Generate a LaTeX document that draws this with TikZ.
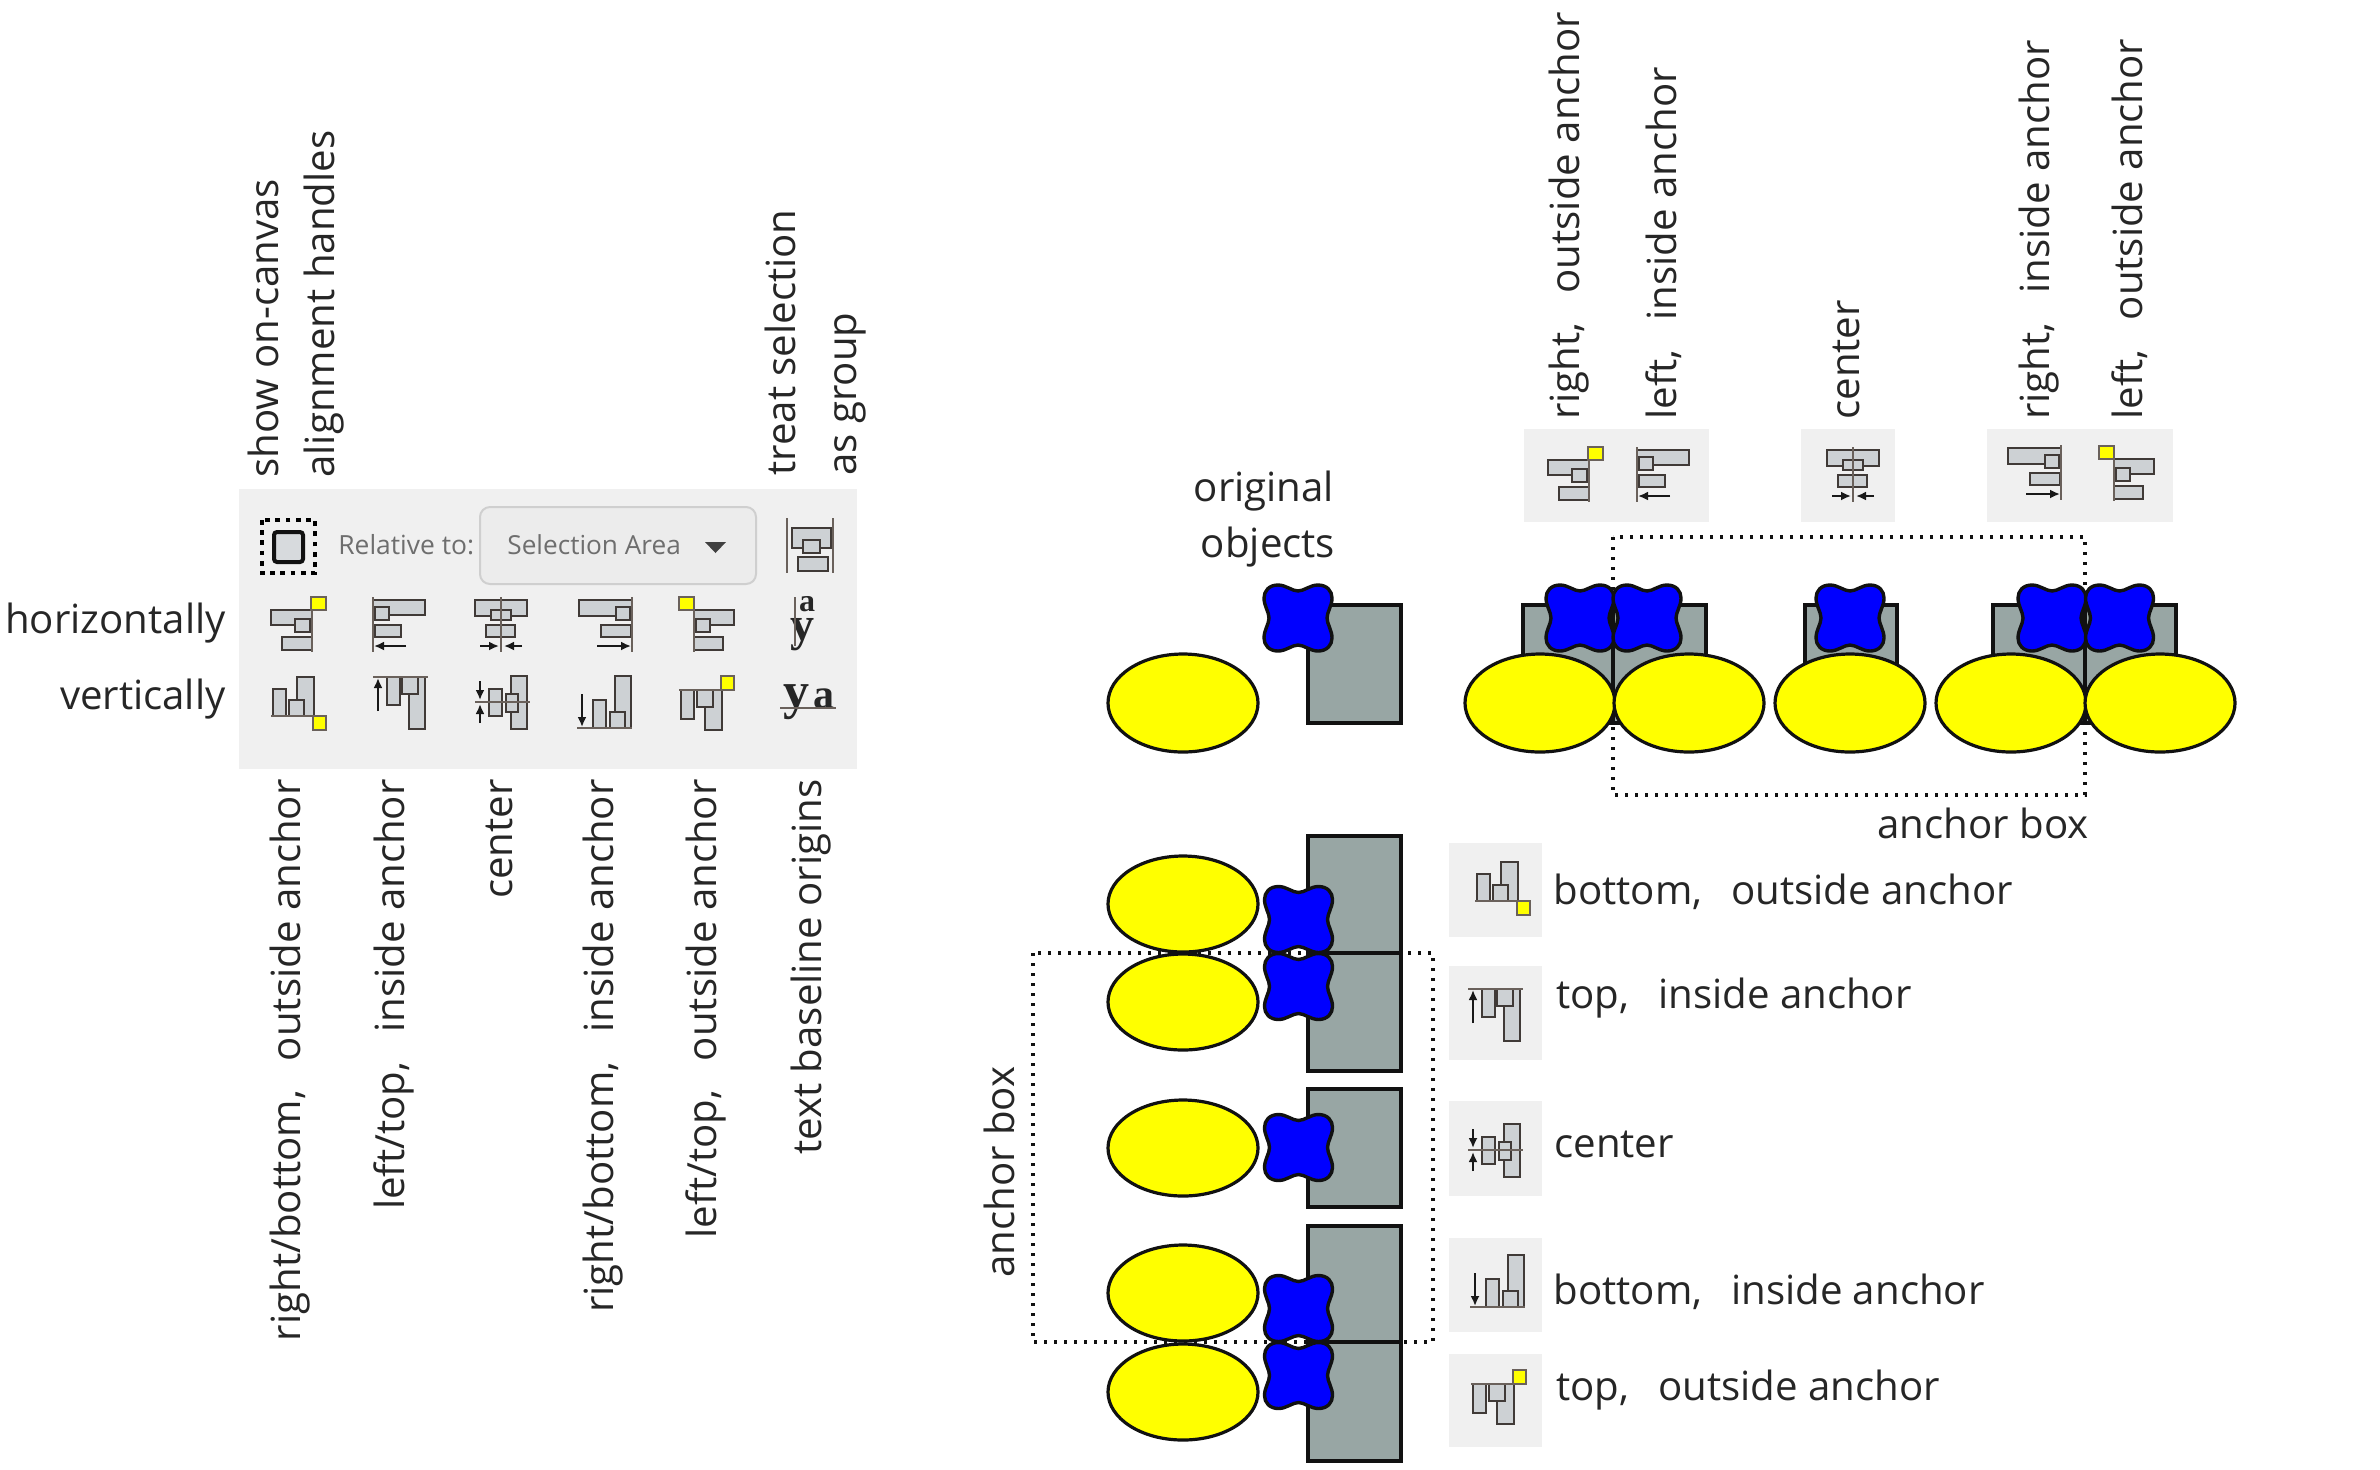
\documentclass[tikz,border=0pt]{standalone}
\usepackage{fontspec}
\usetikzlibrary{arrows.meta}
\setmainfont{Open Sans}
\newfontfamily\iconserif{Liberation Serif}
\newcommand{\wgap}{\hspace{0.72em}}
\definecolor{rectgray}{HTML}{98A6A4}
\definecolor{panelbg}{HTML}{F0F0F0}
\definecolor{ddbg}{HTML}{ECECEC}
\definecolor{ddborder}{HTML}{CFCFCF}
\definecolor{iconline}{HTML}{6A615B}
\definecolor{iconbar}{HTML}{CDD1D4}
\definecolor{icontext}{HTML}{6E6E6E}
\definecolor{inkblack}{HTML}{111111}
\definecolor{pureyellow}{RGB}{255,255,0}
\definecolor{pureblue}{RGB}{0,0,255}
\tikzset{
  lbl/.style={font=\fontsize{20.1}{24}\selectfont, text=black!85, inner sep=0pt, text height=14pt, text depth=4pt},
  toplbl/.style={lbl, rotate=90, anchor=west},
  botlbl/.style={lbl, rotate=90, anchor=east},
  rightlbl/.style={lbl, anchor=west},
  rct/.style={draw=inkblack, line width=1.7pt, fill=rectgray},
  ell/.style={draw=inkblack, line width=1.6pt, fill=pureyellow},
  blobst/.style={draw=inkblack, line width=1.7pt, fill=pureblue},
  anchorbox/.style={draw=inkblack, line width=1.7pt, dash pattern=on 1.7pt off 3.3pt},
  ibg/.style={fill=panelbg, draw=none},
  ibar/.style={draw=iconline!60!black, line width=1.3pt, fill=iconbar},
  iline/.style={draw=iconline, line width=1.3pt},
  iyel/.style={draw=iconline, line width=1.3pt, fill=pureyellow},
  iarr/.style={draw=black!90, line width=1pt, -{Latex[length=5pt,width=4.5pt]}},
  itxt/.style={text=black!85, inner sep=0pt, anchor=base, font=\iconserif\bfseries\fontsize{24}{24}\selectfont},
  blob/.pic={
    \path[blobst] (0,-27) .. controls (-6,-27) and (-12,-33) .. (-20,-33)
      .. controls (-29,-33) and (-34,-27) .. (-34,-20)
      .. controls (-34,-12) and (-29,-6) .. (-29,0)
      .. controls (-29,6) and (-34,12) .. (-34,20)
      .. controls (-34,27) and (-29,33) .. (-20,33)
      .. controls (-12,33) and (-6,27) .. (0,27)
      .. controls (6,27) and (12,33) .. (20,33)
      .. controls (29,33) and (34,27) .. (34,20)
      .. controls (34,12) and (29,6) .. (29,0)
      .. controls (29,-6) and (34,-12) .. (34,-20)
      .. controls (34,-27) and (29,-33) .. (20,-33)
      .. controls (12,-33) and (6,-27) .. (0,-27) -- cycle;
  },
  hro/.pic={
    \path[ibar] (1,13) rectangle (42,28);
    \path[ibar] (12,40) rectangle (42,53);
    \path[iline] (42,0) -- (42,55);
    \path[ibar] (25,22) rectangle (40,35);
    \path[iyel] (41,0) rectangle (56,13);
  },
  hli/.pic={
    \path[ibar] (0,3) rectangle (52,18);
    \path[ibar] (2,28) rectangle (28,40);
    \path[iline] (0,0) -- (0,55);
    \path[ibar] (2,10) rectangle (16,23);
    \path[iarr] (33,49) -- (1,49);
  },
  hcn/.pic={
    \path[ibar] (0,3) rectangle (52,19);
    \path[ibar] (11,28) rectangle (40,40);
    \path[ibar] (16,13) rectangle (36,23);
    \path[iline] (26,0) -- (26,55);
    \path[iarr] (5,49) -- (24,49);
    \path[iarr] (47,49) -- (29,49);
  },
  hri/.pic={
    \path[ibar] (0,3) rectangle (53,19);
    \path[ibar] (22,28) rectangle (52,40);
    \path[iline] (53,0) -- (53,55);
    \path[ibar] (37,10) rectangle (51,23);
    \path[iarr] (18,49) -- (52,49);
  },
  hlo/.pic={
    \path[ibar] (15,13) rectangle (55,28);
    \path[ibar] (15,40) rectangle (44,53);
    \path[iline] (15,0) -- (15,55);
    \path[ibar] (17,22) rectangle (31,35);
    \path[iyel] (0,0) rectangle (15,13);
  },
  vbo/.pic={
    \path[ibar] (2,13) rectangle (15,40);
    \path[ibar] (26,1) rectangle (43,40);
    \path[ibar] (18,24) rectangle (33,40);
    \path[iline] (0,40) -- (43,40);
    \path[iyel] (42,40) rectangle (55,54);
  },
  vti/.pic={
    \path[ibar] (14,1) rectangle (27,29);
    \path[ibar] (36,1) rectangle (52,53);
    \path[ibar] (29,1) rectangle (45,18);
    \path[iline] (0,1) -- (55,1);
    \path[iarr] (5,35) -- (5,2);
  },
  vcn/.pic={
    \path[ibar] (14,13) rectangle (27,40);
    \path[ibar] (36,0) rectangle (52,53);
    \path[ibar] (31,18) rectangle (43,36);
    \path[iline] (0,26) -- (55,26);
    \path[iarr] (5,5) -- (5,24);
    \path[iarr] (5,47) -- (5,28);
  },
  vbi/.pic={
    \path[ibar] (16,24) rectangle (29,52);
    \path[ibar] (38,0) rectangle (54,52);
    \path[ibar] (33,36) rectangle (48,52);
    \path[iline] (0,52) -- (55,52);
    \path[iarr] (5,18) -- (5,51);
  },
  vto/.pic={
    \path[ibar] (2,14) rectangle (15,43);
    \path[ibar] (26,14) rectangle (43,54);
    \path[ibar] (18,14) rectangle (34,31);
    \path[iline] (0,14) -- (44,14);
    \path[iyel] (42,0) rectangle (55,14);
  },
}
\begin{document}
\begin{tikzpicture}[x=0.5pt,y=-0.5pt]
\useasboundingbox (0,0) rectangle (2380,1469);
\fill[white] (0,0) rectangle (2380,1469);

% --- toolbar panel ---
\path[ibg] (239,489) rectangle (857,769);
\draw[draw=black, line width=2pt, dash pattern=on 2.4pt off 2.7pt] (262,520) rectangle (315,573);
\draw[draw=inkblack, line width=2pt, rounded corners=1.5pt, fill=iconbar!80!white] (274,532) rectangle (303,562);
\node[font=\fontsize{13.2}{16}\selectfont, text=icontext, inner sep=0pt, anchor=west] (rel) at (338,545) {Relative to:};
\draw[draw=ddborder, line width=1pt, fill=ddbg, rounded corners=5pt] (480,507) rectangle (756,584);
\node[font=\fontsize{13.1}{16}\selectfont, text=icontext, inner sep=0pt, anchor=west] (sel) at (507,545) {Selection Area};
\fill[black!75] (705,542) -- (726,542) -- (715.5,553) -- cycle;
% treat as group icon
\path[ibar] (792,528) rectangle (831,548);
\path[ibar] (798,557) rectangle (828,571);
\path[ibar] (803,540) rectangle (820,553);
\path[iline] (787,518) -- (787,573);
\path[iline] (833,518) -- (833,573);
% icons of the panel
\foreach \n/\x in {hro/270,hli/373,hcn/475,hri/579,hlo/679}
  \pic at (\x,597) {\n};
\foreach \n/\x in {vbo/271,vti/373,vcn/475,vbi/577,vto/679}
  \pic at (\x,676) {\n};
% text baseline icons
\node[itxt, font=\iconserif\bfseries\fontsize{16}{16}\selectfont] (tva) at (807,611) {a};
\node[itxt, font=\iconserif\bfseries\fontsize{24}{24}\selectfont] (tvy) at (802,640) {y};
\path[iline] (795,597) -- (795,646);
\node[itxt, font=\iconserif\bfseries\fontsize{26}{26}\selectfont] (thy) at (796,708) {y};
\node[itxt, font=\iconserif\bfseries\fontsize{21}{21}\selectfont] (tha) at (824,708) {a};
\path[iline] (780,708) -- (836,708);

% --- panel labels ---
\node[lbl, anchor=east] (lh) at (226,623) {horizontally};
\node[lbl, anchor=east] (lv) at (226,699) {vertically};
\node[botlbl] (b1) at (290,779) {right/bottom,\wgap outside anchor};
\node[botlbl] (b2) at (394,779) {left/top,\wgap inside anchor};
\node[botlbl] (b3) at (502,779) {center};
\node[botlbl] (b4) at (603,779) {right/bottom,\wgap inside anchor};
\node[botlbl] (b5) at (706,779) {left/top,\wgap outside anchor};
\node[botlbl] (b6) at (811,779) {text baseline origins};
\node[toplbl] (t1) at (268,478) {show on-canvas};
\node[toplbl] (t2) at (324,478) {alignment handles};
\node[toplbl] (t3) at (785,476) {treat selection};
\node[toplbl] (t4) at (846,476) {as group};

% --- original objects ---
\node[lbl] (o1) at (1264,491) {original};
\node[lbl] (o2) at (1268,547) {objects};
\path[rct] (1308,605) rectangle (1401,723);
\path[ell] (1183,703) ellipse [x radius=75, y radius=49];
\pic at (1298,618) {blob};

% --- top row ---
\foreach \a/\b in {1524/1709,1801/1895,1987/2173}
  \path[ibg] (\a,429) rectangle (\b,522);
\pic at (1547,447) {hro};
\pic at (1637,447) {hli};
\pic at (1827,447) {hcn};
\pic at (2008,445) {hri};
\pic at (2099,446) {hlo};
\draw[anchorbox] (1613,537) rectangle (2085,795);
\path[rct] (1523,605) rectangle (1613,723);
\path[rct] (1613,605) rectangle (1706,723);
\path[rct] (1805,605) rectangle (1897,723);
\path[rct] (1993,605) rectangle (2085,723);
\path[rct] (2085,605) rectangle (2176,723);
\foreach \x in {1540,1689,1850,2011,2160}
  \path[ell] (\x,703) ellipse [x radius=75, y radius=49];
\foreach \x in {1580,1647,1850,2052,2119.5}
  \pic at (\x,618) {blob};
\node[toplbl] (r1) at (1569,420) {right,\wgap outside anchor};
\node[toplbl] (r2) at (1666,420) {left,\wgap inside anchor};
\node[toplbl] (r3) at (1849,420) {center};
\node[toplbl] (r4) at (2039,420) {right,\wgap inside anchor};
\node[toplbl] (r5) at (2132,420) {left,\wgap outside anchor};
\node[lbl, anchor=east] (ab1) at (2089,828) {anchor box};

% --- left column ---
\foreach \a/\b in {843/937,966/1060,1101/1196,1238/1332,1354/1447}
  \path[ibg] (1449,\a) rectangle (1542,\b);
\pic at (1475,861) {vbo};
\pic at (1468,988) {vti};
\pic at (1468,1124) {vcn};
\pic at (1470,1255) {vbi};
\pic at (1471,1370) {vto};
\draw[anchorbox] (1033,953) rectangle (1433,1342);
\path[rct] (1308,836) rectangle (1401,953);
\path[rct] (1308,953) rectangle (1401,1071);
\path[rct] (1308,1089) rectangle (1401,1207);
\path[rct] (1308,1226) rectangle (1401,1342);
\path[rct] (1308,1342) rectangle (1401,1461);
\foreach \y in {904,1002,1148,1293,1392}
  \path[ell] (1183,\y) ellipse [x radius=75, y radius=48];
\foreach \y in {919.5,986.5,1147.5,1308.5,1375.5}
  \pic at (1298.5,\y) {blob};
\node[lbl, rotate=90] (ab2) at (1004,1172) {anchor box};
\node[rightlbl] (s1) at (1553,894) {bottom,\wgap outside anchor};
\node[rightlbl] (s2) at (1556,998) {top,\wgap inside anchor};
\node[rightlbl] (s3) at (1554,1147) {center};
\node[rightlbl] (s4) at (1553,1294) {bottom,\wgap inside anchor};
\node[rightlbl] (s5) at (1556,1390) {top,\wgap outside anchor};
\end{tikzpicture}
\end{document}
